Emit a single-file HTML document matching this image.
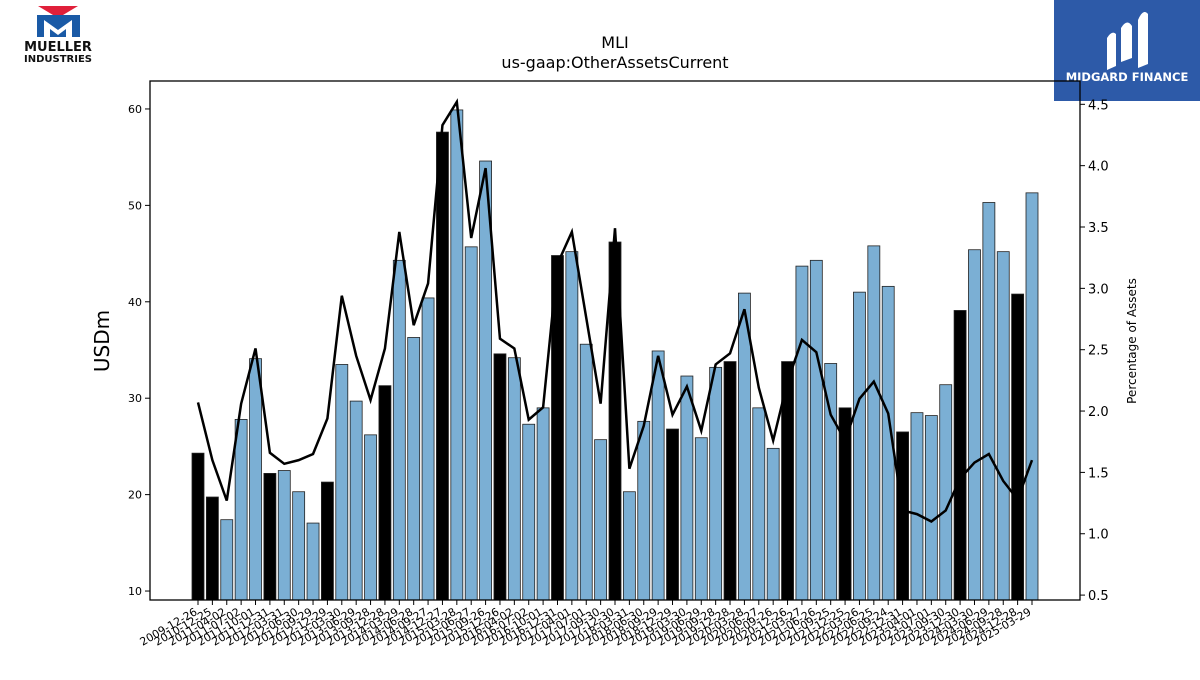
<!DOCTYPE html>
<html><head><meta charset="utf-8"><style>
body{margin:0;background:#fff;width:1200px;height:675px;overflow:hidden;font-family:"Liberation Sans","DejaVu Sans",sans-serif}
</style></head><body>
<svg id="chart" width="1200" height="675" xmlns="http://www.w3.org/2000/svg" font-family="DejaVu Sans, Liberation Sans, sans-serif">
<g>
<polygon points="38,6 78,6 58,18" fill="#e0203a"/>
<rect x="37" y="15" width="43" height="22" fill="#1a5aa6"/>
<polygon points="44,37 44,20 58,30 72,20 72,37 66,37 66,29 58,35 50,29 50,37" fill="#fff"/>
<text x="58" y="51" text-anchor="middle" font-size="13" font-weight="bold" fill="#111">MUELLER</text>
<text x="58" y="62" text-anchor="middle" font-size="10" font-weight="bold" fill="#111">INDUSTRIES</text>
</g>
<g>
<rect x="1054" y="0" width="146" height="101" fill="#2d5aa8"/>
<path d="M1107,70 L1107,38 Q1112,30 1116,34 L1116,66 Z M1121,62 L1121,28 Q1127,18 1132,26 L1132,58 Z M1138,68 L1138,20 Q1143,8 1148,14 L1148,64 Z" fill="#fff"/>
<text x="1127" y="81" text-anchor="middle" font-size="11.5" font-weight="bold" fill="#fff">MIDGARD FINANCE</text>
</g>
<text x="615" y="48" text-anchor="middle" font-size="16">MLI</text>
<text x="615" y="68" text-anchor="middle" font-size="16">us-gaap:OtherAssetsCurrent</text>
<g id="plot"></g>
<rect x="150" y="81" width="930" height="519" fill="none" stroke="#000" stroke-width="1.3"/>
<text transform="translate(109,341) rotate(-90)" text-anchor="middle" font-size="20">USDm</text>
<text transform="translate(1136,341) rotate(-90)" text-anchor="middle" font-size="12">Percentage of Assets</text>
</svg>
<script>
const categories=["2009-12-26","2010-12-25","2011-04-02","2011-07-02","2011-10-01","2011-12-31","2012-03-31","2012-06-30","2012-09-29","2012-12-29","2013-03-30","2013-06-29","2013-09-28","2013-12-28","2014-03-29","2014-06-28","2014-09-27","2014-12-27","2015-03-28","2015-06-27","2015-09-26","2015-12-26","2016-04-02","2016-07-02","2016-10-01","2016-12-31","2017-04-01","2017-07-01","2017-09-30","2017-12-30","2018-03-31","2018-06-30","2018-09-29","2018-12-29","2019-03-30","2019-06-29","2019-09-28","2019-12-28","2020-03-28","2020-06-27","2020-09-26","2020-12-26","2021-03-27","2021-06-26","2021-09-25","2021-12-25","2022-03-26","2022-06-25","2022-09-24","2022-12-31","2023-04-01","2023-07-01","2023-09-30","2023-12-30","2024-03-30","2024-06-29","2024-09-28","2024-12-28","2025-03-29"];
const values=[24.3,19.75,17.4,27.8,34.1,22.2,22.5,20.3,17.05,21.3,33.5,29.7,26.2,31.3,44.3,36.3,40.4,57.6,59.9,45.7,54.6,34.6,34.2,27.3,29.0,44.8,45.2,35.6,25.7,46.2,20.3,27.6,34.9,26.8,32.3,25.9,33.2,33.8,40.9,29.0,24.8,33.8,43.7,44.3,33.6,29.0,41.0,45.8,41.6,26.5,28.5,28.2,31.4,39.1,45.4,50.3,45.2,40.8,51.3];
const pct=[2.07,1.60,1.27,2.06,2.51,1.66,1.57,1.60,1.65,1.94,2.94,2.45,2.09,2.51,3.46,2.70,3.04,4.33,4.52,3.41,3.98,2.59,2.51,1.93,2.03,3.20,3.46,2.76,2.06,3.49,1.53,1.88,2.45,1.97,2.20,1.84,2.38,2.47,2.83,2.19,1.76,2.24,2.58,2.48,1.97,1.76,2.10,2.24,1.98,1.19,1.16,1.10,1.19,1.45,1.58,1.65,1.43,1.28,1.60];
const leftTicks=[10,20,30,40,50,60];
const rightTicks=[0.5,1.0,1.5,2.0,2.5,3.0,3.5,4.0,4.5];
const NS="http://www.w3.org/2000/svg";
const plot=document.getElementById("plot");
const X0=150,X1=1080,Y0=81,Y1=600;
const yMin=9.07,yMax=62.9,rMin=0.46,rMax=4.69;
const step=(1032-198)/(categories.length-1);
function xs(i){return 198+i*step;}
function ys(v){return Y1-(v-yMin)/(yMax-yMin)*(Y1-Y0);}
function yr(v){return Y1-(v-rMin)/(rMax-rMin)*(Y1-Y0);}
function mk(t,a){const e=document.createElementNS(NS,t);for(const k in a)e.setAttribute(k,a[k]);plot.appendChild(e);return e;}
categories.forEach((c,i)=>{
  const black=/-12-|2010-12|2022-12/.test(c);
  const top=ys(values[i]);
  const r=mk("rect",{x:xs(i)-6,y:top,width:12,height:Y1-top,fill:black?"#000":"#7bafd4",stroke:"#222","stroke-width":0.8});
  
  
  const t=mk("line",{x1:xs(i),x2:xs(i),y1:Y1,y2:Y1+5,stroke:"#000"});
  
  
  const l=mk("text",{x:xs(i),y:Y1+14,"text-anchor":"end","font-size":11,transform:`rotate(-30 ${xs(i)} ${Y1+14})`});
  l.textContent=c;
  
  
});
const line=mk("polyline",{points:pct.map((v,i)=>xs(i)+","+yr(v)).join(" "),fill:"none",stroke:"#000","stroke-width":2.5});


leftTicks.forEach(v=>{
  const t=mk("line",{x1:X0-5,x2:X0,y1:ys(v),y2:ys(v),stroke:"#000"});
  
  
  const l=mk("text",{x:X0-8,y:ys(v)+4,"text-anchor":"end","font-size":11});
  l.textContent=v;
  
  
});
rightTicks.forEach(v=>{
  const t=mk("line",{x1:X1,x2:X1+5,y1:yr(v),y2:yr(v),stroke:"#000"});
  
  
  const l=mk("text",{x:X1+8,y:yr(v)+5,"font-size":13});
  l.textContent=v.toFixed(1);
  
  
});
</script>
</body></html>
